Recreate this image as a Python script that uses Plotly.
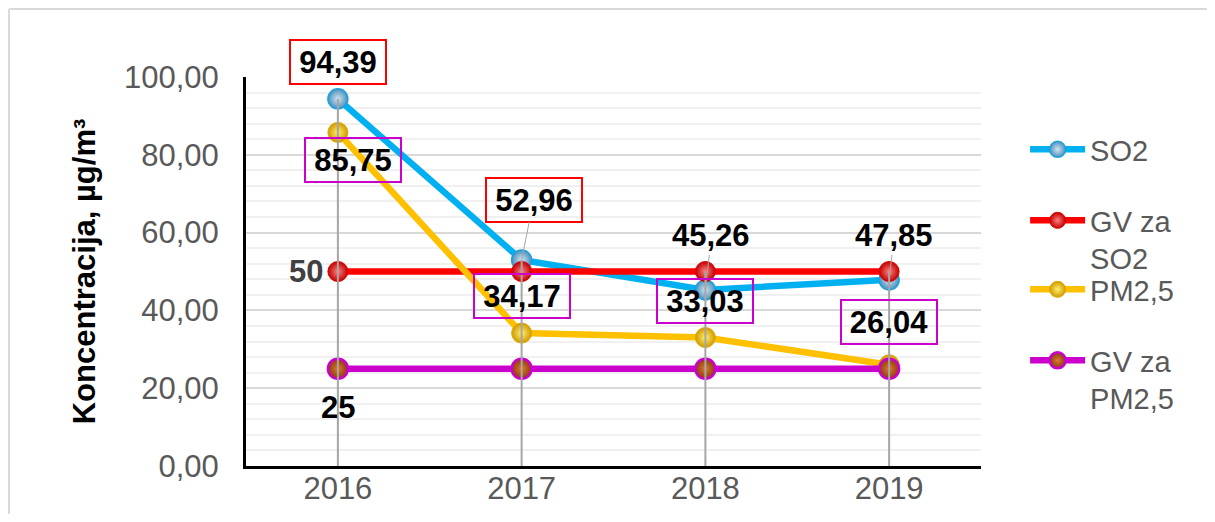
import plotly.graph_objects as go

years = ["2016", "2017", "2018", "2019"]
so2 = [94.39, 52.96, 45.26, 47.85]
gv_so2 = [50, 50, 50, 50]
pm25 = [85.75, 34.17, 33.03, 26.04]
gv_pm25 = [25, 25, 25, 25]
y_ticks = [0, 20, 40, 60, 80, 100]

FONT = "Liberation Sans, Arial, sans-serif"

def fmt(v):
    return f"{v:.2f}".replace(".", ",")

fig = go.Figure()

series = [
    ("SO2", so2, "#00b0f0", "#4a8fbe", "#d2e4f0", "#1aa3dc", 1.5, "legend"),
    ("GV za<br>SO2", gv_so2, "#ff0000", "#c00000", "#ff8080", "#e00000", 1, "legend2"),
    ("PM2,5", pm25, "#ffc000", "#d09a00", "#fff070", "#e0a800", 1, "legend3"),
    ("GV za<br>PM2,5", gv_pm25, "#cc00cc", "#8a3a10", "#e07a30", "#cc00cc", 2.5, "legend4"),
]
for name, vals, lc, mc, gc, mlc, mlw, lg in series:
    fig.add_trace(go.Scatter(
        x=years, y=vals, name=name, mode="lines+markers",
        line=dict(color=lc, width=6.5),
        marker=dict(size=20, color=mc, gradient=dict(type="radial", color=gc),
                    line=dict(color=mlc, width=mlw)),
        legend=lg, cliponaxis=False,
    ))

# drop lines from the highest series value down to the axis
dx, dy = [], []
for i, yr in enumerate(years):
    top = max(so2[i], gv_so2[i], pm25[i], gv_pm25[i])
    dx += [yr, yr, None]
    dy += [top, 0, None]
fig.add_trace(go.Scatter(x=dx, y=dy, mode="lines", line=dict(color="#a6a6a6", width=2),
                         showlegend=False, hoverinfo="skip"))

lab_font = dict(family=FONT, size=31, color="black")

def boxed(i, y, text, color, xs=0, ys=0):
    fig.add_annotation(x=i, y=y, xref="x", yref="y", text=f"<b>{text}</b>", showarrow=False,
                       xshift=xs, yshift=ys, font=lab_font, bordercolor=color, borderwidth=2,
                       borderpad=3, width=88, height=36)

def leader(i, y, text, ax, ay, color=None):
    kw = {}
    if color:
        kw = dict(bordercolor=color, borderwidth=2, borderpad=3, width=88, height=36)
    fig.add_annotation(x=i, y=y, xref="x", yref="y", text=f"<b>{text}</b>", showarrow=True,
                       arrowhead=0, arrowwidth=1, arrowcolor="#a6a6a6", ax=ax, ay=ay,
                       font=lab_font, **kw)

boxed(0, so2[0], fmt(so2[0]), "#ff0000", 0, 37)
boxed(0, pm25[0], fmt(pm25[0]), "#cc00cc", 15, -28)
leader(1, so2[1], fmt(so2[1]), 12, -60, "#ff0000")
boxed(1, pm25[1], fmt(pm25[1]), "#cc00cc", 0, 37)
leader(2, so2[2], fmt(so2[2]), 6, -54)
boxed(2, pm25[2], fmt(pm25[2]), "#cc00cc", 0, 37)
leader(3, so2[3], fmt(so2[3]), 5, -44)
boxed(3, pm25[3], fmt(pm25[3]), "#cc00cc", 0, 43)

fig.add_annotation(x=0, y=gv_so2[0], xref="x", yref="y", text=f"<b>{gv_so2[0]}</b>",
                   showarrow=False, xshift=-32, font=dict(family=FONT, size=31, color="#404040"))
fig.add_annotation(x=0, y=gv_pm25[0], xref="x", yref="y", text=f"<b>{gv_pm25[0]}</b>",
                   showarrow=False, yshift=-39, font=lab_font)

# outer chart border (top and left edges visible in the reference)
border = dict(color="#d9d9d9", width=2)
fig.add_shape(type="line", xref="paper", yref="paper", x0=-0.3224, x1=1.6, y0=1.1748, y1=1.1748,
              line=border, layer="below")
fig.add_shape(type="line", xref="paper", yref="paper", x0=-0.3224, x1=-0.3224, y0=-0.4, y1=1.1748,
              line=border, layer="below")

leg_common = dict(xanchor="left", yanchor="top", font=dict(family=FONT, size=29, color="#595959"),
                  bgcolor="rgba(0,0,0,0)", itemwidth=55, valign="top")
def ly(center_px):
    return (466 - (center_px - 26)) / 389

fig.update_layout(
    width=1199, height=506,
    margin=dict(l=238, r=226, t=69, b=48, autoexpand=False),
    paper_bgcolor="white", plot_bgcolor="white",
    separators=", ",
    font=dict(family=FONT, size=31, color="#595959"),
    showlegend=True,
    legend=dict(x=1.06, y=ly(150), **leg_common),
    legend2=dict(x=1.06, y=ly(221), **leg_common),
    legend3=dict(x=1.06, y=ly(290), **leg_common),
    legend4=dict(x=1.06, y=ly(361), **leg_common),
    xaxis=dict(type="category", range=[-0.5, 3.5], showgrid=False, showline=True,
               linecolor="black", linewidth=3, ticks="", tickfont=dict(size=31, color="#595959"),
               zeroline=False, ticklabelstandoff=-7),
    yaxis=dict(range=[0, 100], tickvals=y_ticks, tickformat=".2f", showline=True,
               linecolor="black", linewidth=3, gridcolor="#d9d9d9", gridwidth=2,
               minor=dict(dtick=4, showgrid=True, gridcolor="#f0f0f0", gridwidth=2),
               zeroline=False, ticks="", ticklabelstandoff=18,
               tickfont=dict(size=31, color="#595959"),
               title=dict(text="<b>Koncentracija, µg/m³</b>", standoff=20,
                          font=dict(family=FONT, size=31, color="black"))),
)

fig.write_html("out.html")
